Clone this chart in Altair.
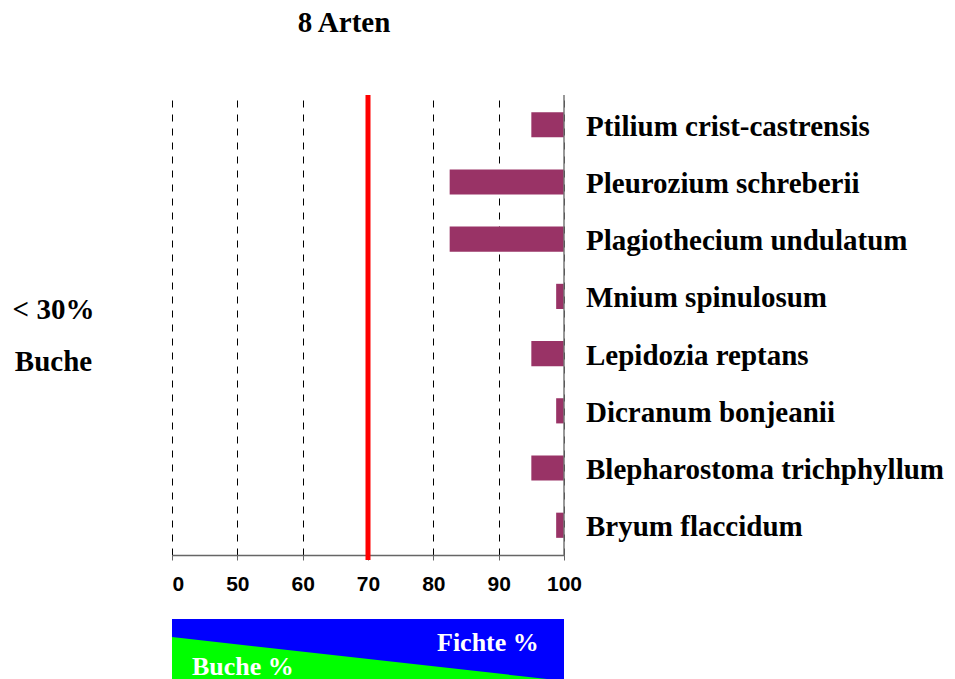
import altair as alt
import pandas as pd

# ---- data ----
species = [
    "Ptilium crist-castrensis",
    "Pleurozium schreberii",
    "Plagiothecium undulatum",
    "Mnium spinulosum",
    "Lepidozia reptans",
    "Dicranum bonjeanii",
    "Blepharostoma trichphyllum",
    "Bryum flaccidum",
]
bar_start = [95, 82.5, 82.5, 98.8, 95, 98.8, 95, 98.8]
bar_end = [100, 100, 100, 100, 100, 100, 100, 100]
tick_values = [40, 50, 60, 70, 80, 90, 100]
tick_labels = ["0", "50", "60", "70", "80", "90", "100"]
threshold = [70]
axis_max = [100]
side_title = ["< 30%", "Buche"]
chart_title = "8 Arten"
gradient_x = [40, 97.4]
gradient_top = [0.7, 0.0]
box_x = [40]
box_x2 = [100]
box_labels = ["Fichte %", "Buche %"]

SERIF = "Liberation Serif"
SANS = "Liberation Sans"

# label expression from tick arrays
expr = "datum.label"
for v, l in zip(reversed(tick_values), reversed(tick_labels)):
    expr = f"datum.value == {v} ? '{l}' : ({expr})"

df = pd.DataFrame({"species": species, "start": bar_start, "end": bar_end})

xscale = alt.Scale(domain=[tick_values[0], tick_values[-1]], nice=False, zero=False)
yscale = alt.Scale(domain=species, paddingInner=0.56, paddingOuter=0.3)

W, H = 392, 460

x_axis = alt.Axis(
    values=tick_values,
    labelExpr=expr,
    title=None,
    grid=True,
    gridDash=[7, 7],
    gridColor="#000000",
    gridWidth=1,
    domainColor="#666666",
    domainWidth=1.5,
    tickColor="#666666",
    tickSize=5,
    labelFont=SANS,
    labelFontWeight="bold",
    labelFontSize=21,
    labelColor="#000000",
    labelPadding=13,
    labelAlign={"condition": {"test": f"datum.value == {tick_values[0]}", "value": "left"}, "value": "center"},
)

y_axis = alt.Axis(
    title=side_title,
    titleAngle=0,
    titleAlign="center",
    titleBaseline="alphabetic",
    titleX=-119,
    titleY=223,
    titleLineHeight=52,
    titleFont=SERIF,
    titleFontSize=29,
    titleFontWeight="bold",
    titleColor="#000000",
    labels=False,
    ticks=False,
    domain=False,
    grid=False,
)

bars = alt.Chart(df).mark_bar(color="#993366").encode(
    x=alt.X("start:Q", scale=xscale, axis=x_axis),
    x2="end:Q",
    y=alt.Y("species:N", scale=yscale, sort=species, axis=y_axis),
)

red = alt.Chart(pd.DataFrame({"v": threshold})).mark_rule(color="#FF0000", strokeWidth=5).encode(
    x=alt.X("v:Q", scale=xscale),
    y=alt.value(0),
    y2=alt.value(H + 5),
)

right_line = alt.Chart(pd.DataFrame({"v": axis_max})).mark_rule(color="#777777", strokeWidth=1.5).encode(
    x=alt.X("v:Q", scale=xscale),
)

names = alt.Chart(df).mark_text(
    align="left", baseline="middle", dx=22, dy=2, font=SERIF, fontSize=29, fontWeight="bold", color="#000000"
).encode(
    x=alt.X("end:Q", scale=xscale),
    y=alt.Y("species:N", scale=yscale, sort=species),
    text="species:N",
)

top = alt.layer(bars, right_line, red, names).properties(
    width=W,
    height=H,
    title=alt.Title(
        chart_title, font=SERIF, fontSize=29, fontWeight="bold", color="#000000",
        anchor="middle", dx=-24, offset=55,
    ),
)

# ---- Fichte / Buche legend box ----
bx = alt.Scale(domain=[tick_values[0], tick_values[-1]], nice=False, zero=False)
by = alt.Scale(domain=[0, 1], nice=False)

blue = alt.Chart(pd.DataFrame({"x": box_x, "x2": box_x2})).mark_rect(color="#0000FF").encode(
    x=alt.X("x:Q", scale=bx, axis=None),
    x2="x2:Q",
    y=alt.value(0),
    y2=alt.value(60),
)

green = alt.Chart(pd.DataFrame({"x": gradient_x, "y": gradient_top})).mark_area(color="#00FF00").encode(
    x=alt.X("x:Q", scale=bx, axis=None),
    y=alt.Y("y:Q", scale=by, axis=None),
)

fichte = alt.Chart(pd.DataFrame({"t": [box_labels[0]]})).mark_text(
    align="left", baseline="alphabetic", font=SERIF, fontSize=26, fontWeight="bold", color="#FFFFFF"
).encode(x=alt.value(265), y=alt.value(32), text="t:N")

buche = alt.Chart(pd.DataFrame({"t": [box_labels[1]]})).mark_text(
    align="left", baseline="alphabetic", font=SERIF, fontSize=26, fontWeight="bold", color="#FFFFFF"
).encode(x=alt.value(20), y=alt.value(56), text="t:N")

bottom = alt.layer(blue, green, fichte, buche).properties(width=W, height=60)

chart = alt.vconcat(top, bottom, spacing=64, bounds="flush").properties(
    padding={"left": 4, "top": 0, "right": 0, "bottom": 0}
).configure_view(stroke=None)

chart.save("out.html", embed_options={"renderer": "svg", "actions": False})
